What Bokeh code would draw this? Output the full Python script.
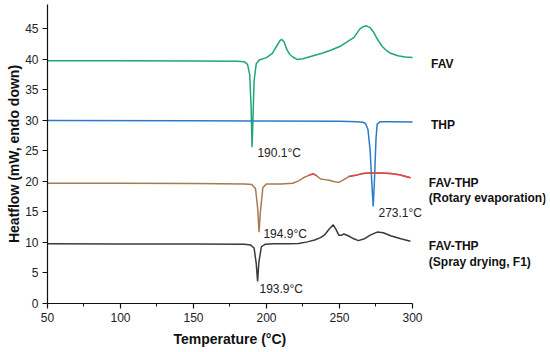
from bokeh.plotting import figure
from bokeh.models import Label, Range1d, FixedTicker, Title
from bokeh.embed import file_html
from bokeh.resources import INLINE

# ---- data ----
fav_t = [50, 100, 150, 180, 185, 187, 188.5, 189.5, 190.1, 190.7, 191.5, 193, 195, 200, 204, 207, 209, 210.3,
         212, 214, 216, 218, 221, 225, 232, 238, 244, 251, 256, 260, 264, 266.5, 268.5, 271, 273.5, 276, 279,
         282, 285, 290, 295, 300]
fav_v = [39.8, 39.8, 39.75, 39.7, 39.6, 39.2, 37.5, 32, 25.6, 30, 36.5, 39.3, 39.9, 40.3, 41.0, 42.2, 43.0, 43.3,
         42.9, 41.6, 40.8, 40.4, 40.0, 40.1, 40.6, 41.0, 41.5, 42.2, 43.0, 43.6, 45.0, 45.4, 45.5, 45.2, 44.4, 43.3,
         42.2, 41.5, 41.0, 40.6, 40.4, 40.3]

thp_t = [50, 150, 200, 250, 262, 266, 267.8, 269.5, 271, 272.2, 273.1, 274, 275, 275.8, 278, 285, 300]
thp_v = [30.0, 29.95, 29.9, 29.85, 29.8, 29.7, 29.5, 28.5, 25.0, 19.5, 15.9, 20.5, 27.0, 29.4, 29.8, 29.8, 29.75]

rot_t = [50, 100, 150, 185, 190, 192.5, 194, 194.9, 195.8, 197.5, 200, 210, 218, 222, 226, 229, 232, 234, 237,
         240, 243, 246, 249.5, 253, 256.4, 261, 266, 271, 278, 285, 291, 298.6]
rot_v = [19.7, 19.7, 19.65, 19.6, 19.5, 18.8, 15.5, 11.7, 15.0, 19.0, 19.6, 19.6, 19.7, 20.1, 20.7, 21.0, 21.25,
         21.0, 20.4, 20.3, 20.2, 20.0, 19.85, 20.3, 20.8, 21.0, 21.3, 21.4, 21.4, 21.3, 21.1, 20.6]

spr_t = [50, 100, 150, 185, 189, 191.5, 193, 193.9, 194.8, 196.5, 199, 205, 215, 222, 228, 233, 237, 240, 243,
         245.7, 247.5, 249.5, 251.5, 253, 256, 259.8, 263, 267, 271, 275.8, 280, 285, 292, 298.6]
spr_v = [9.8, 9.75, 9.75, 9.7, 9.6, 9.1, 6.5, 3.6, 6.8, 9.3, 9.7, 9.8, 9.8, 9.85, 10.1, 10.4, 10.8, 11.3, 12.2,
         12.9, 12.2, 11.2, 11.2, 11.4, 11.1, 10.6, 10.3, 10.6, 11.2, 11.7, 11.6, 11.1, 10.6, 10.2]

x_ticks = [50, 100, 150, 200, 250, 300]
x_minor = [75, 125, 175, 225, 275]
y_ticks = [0, 5, 10, 15, 20, 25, 30, 35, 40, 45]

peak_labels = ["190.1°C", "194.9°C", "193.9°C", "273.1°C"]
series_labels = ["FAV", "THP", "FAV-THP", "(Rotary evaporation)", "FAV-THP", "(Spray drying, F1)"]

FONT = "Liberation Sans"

# ---- figure ----
# x range extends past 300 so the series names (right) fit inside the frame;
# the axis itself is bounded to 50..300
p = figure(width=550, height=352, output_backend="svg", toolbar_location=None,
           x_range=Range1d(50, 391.1), y_range=Range1d(0, 49.0),
           min_border_left=47, min_border_right=5, min_border_top=4, min_border_bottom=49)
p.outline_line_color = None
p.xgrid.visible = False
p.ygrid.visible = False
p.background_fill_color = "white"

p.xaxis.ticker = FixedTicker(ticks=x_ticks, minor_ticks=x_minor)
p.yaxis.ticker = FixedTicker(ticks=y_ticks)
p.xaxis.bounds = (50, 300)
for ax in (p.xaxis, p.yaxis):
    ax.axis_line_color = "#111111"
    ax.axis_line_width = 1.2
    ax.major_tick_line_color = "#111111"
    ax.major_tick_line_width = 1.2
    ax.major_tick_in = 0
    ax.major_tick_out = 5
    ax.minor_tick_in = 0
    ax.minor_tick_out = 3
    ax.minor_tick_line_color = "#111111"
    ax.major_label_text_font = FONT
    ax.major_label_text_font_size = "12px"
    ax.major_label_text_color = "#222222"
    ax.axis_label_text_font = FONT
    ax.axis_label_text_font_style = "bold"
    ax.axis_label_text_font_size = "14px"
    ax.axis_label_text_color = "#111111"
p.yaxis.minor_tick_line_color = None
p.xaxis.major_label_standoff = 4
p.yaxis.major_label_standoff = 4
p.yaxis.axis_label = "Heatflow (mW, endo down)"
p.yaxis.axis_label_standoff = 0

p.add_layout(Title(text="Temperature (°C)", align="left", offset=126, standoff=8,
                   text_font=FONT, text_font_size="14px", text_font_style="bold",
                   text_color="#111111"), "below")

p.line(fav_t, fav_v, line_color="#1fa67a", line_width=1.5)
p.line(thp_t, thp_v, line_color="#2b7cc4", line_width=1.5)
p.line(rot_t, rot_v, line_color="#a87a50", line_width=1.5)
# red portions of the rotary-evaporation curve
red1 = [i for i, t in enumerate(rot_t) if 229 <= t <= 234]
red2 = [i for i, t in enumerate(rot_t) if t >= 256.4]
p.line([rot_t[i] for i in red1], [rot_v[i] for i in red1], line_color="#e0454e", line_width=1.5)
p.line([rot_t[i] for i in red2], [rot_v[i] for i in red2], line_color="#e0454e", line_width=1.5)
p.line(spr_t, spr_v, line_color="#3a3a3a", line_width=1.5)

# peak annotations
peak_pos = [(193.8, 24.7), (197.9, 11.4), (195.2, 2.45), (276.7, 14.9)]
for txt, (x, y) in zip(peak_labels, peak_pos):
    p.add_layout(Label(x=x, y=y, text=txt, text_font=FONT, text_font_size="12px",
                       text_color="#222222", text_baseline="middle", text_align="left"))

# series names (right)
name_pos = [(312.7, 39.2), (312.7, 29.3), (311.2, 19.7), (311.2, 17.25), (311.2, 9.4), (311.2, 6.85)]
for txt, (x, y) in zip(series_labels, name_pos):
    p.add_layout(Label(x=x, y=y, text=txt, text_font=FONT, text_font_size="12px",
                       text_font_style="bold", text_color="#111111",
                       text_baseline="middle", text_align="left"))

open("out.html", "w").write(file_html(p, INLINE))
